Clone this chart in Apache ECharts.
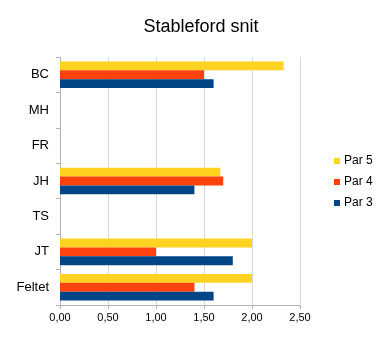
<!DOCTYPE html>
<html><head><meta charset="utf-8">
<script src="https://cdn.jsdelivr.net/npm/echarts@6/dist/echarts.min.js"></script>
<style>html,body{margin:0;padding:0;background:#fff}#c{width:381px;height:345px}</style>
</head><body><div id="c"></div>
<script>
const categories = ['BC','MH','FR','JH','TS','JT','Feltet'];
const par5 = [2.33, null, null, 1.67, null, 2.0, 2.0];
const par4 = [1.5, null, null, 1.7, null, 1.0, 1.4];
const par3 = [1.6, null, null, 1.4, null, 1.8, 1.6];
const seriesNames = ['Par 5','Par 4','Par 3'];
const colors = ['#FFD320','#FF420E','#004586'];
const data = [par5, par4, par3];
const chart = echarts.init(document.getElementById('c'), null, {renderer:'canvas'});
chart.setOption({
  animation:false,
  textStyle:{fontFamily:'Liberation Sans, Arial, sans-serif'},
  title:{text:'Stableford snit', left:196, textAlign:'center', top:13,
    textStyle:{fontSize:18, fontWeight:'normal', color:'#000', fontFamily:'Liberation Sans, Arial, sans-serif'}},
  legend:{orient:'vertical', left:329, top:150, itemWidth:6, itemHeight:6, itemGap:9, icon:'rect',
    textStyle:{fontSize:12, color:'#000', padding:[0,0,0,-1]}, data:seriesNames},
  grid:{left:60, right:81, top:57, bottom:40, containLabel:false},
  xAxis:{type:'value', min:0, max:2.5, interval:0.5,
    axisLine:{show:true, lineStyle:{color:'#b3b3b3'}},
    axisTick:{show:true, length:4, lineStyle:{color:'#b3b3b3'}},
    splitLine:{show:true, lineStyle:{color:'#d9d9d9', width:1}},
    axisLabel:{fontSize:11, color:'#000', margin:7, formatter:v=>v.toFixed(2).replace('.',',')}},
  yAxis:{type:'category', data:categories, inverse:true,
    axisLine:{show:true, lineStyle:{color:'#b3b3b3'}},
    axisTick:{show:true, length:4, lineStyle:{color:'#b3b3b3'}},
    axisLabel:{fontSize:13, color:'#000', margin:11}},
  series: seriesNames.map((n,i)=>({name:n, type:'bar', data:data[i], barGap:'0%', barCategoryGap:'25%',
    itemStyle:{color:colors[i]}}))
});
</script></body></html>
